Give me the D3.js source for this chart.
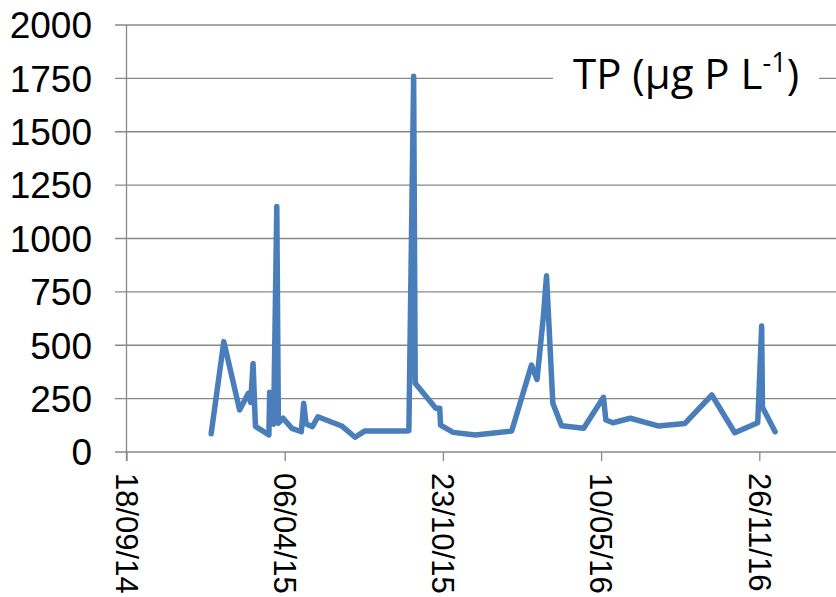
<!DOCTYPE html>
<html>
<head>
<meta charset="utf-8">
<script src="https://cdn.jsdelivr.net/npm/d3@7"></script>
<style>
  body { margin: 0; background: #fff; }
  svg { display: block; }
</style>
</head>
<body>
<div id="chart"></div>
<script>
// sampling dates (dd/mm/yy) and total phosphorus values
const dates = [
  "03/01/15", "19/01/15", "08/02/15", "19/02/15", "22/02/15", "25/02/15", "28/02/15",
  "17/03/15", "18/03/15", "23/03/15", "27/03/15", "29/03/15", "04/04/15", "15/04/15",
  "27/04/15", "30/04/15", "03/05/15", "11/05/15", "18/05/15", "17/06/15", "04/07/15",
  "16/07/15", "06/09/15", "10/09/15", "16/09/15", "18/09/15", "14/10/15", "19/10/15",
  "20/10/15", "05/11/15", "03/12/15", "18/01/16", "12/02/16", "19/02/16", "27/02/16",
  "02/03/16", "10/03/16", "21/03/16", "18/04/16", "13/05/16", "16/05/16", "25/05/16",
  "16/06/16", "21/07/16", "24/08/16", "27/09/16", "26/10/16", "24/11/16", "29/11/16",
  "30/11/16", "16/12/16"
];
const tp = [
  85, 517, 197, 275, 232, 415, 120,
  80, 280, 130, 1150, 135, 158, 111,
  95, 228, 131, 119, 165, 122, 69,
  98, 98, 100, 1760, 322, 205, 205,
  126, 92, 80, 98, 407, 340, 634,
  825, 228, 123, 111, 256, 150, 137,
  158, 122, 134, 267, 90, 137, 590,
  210, 95
];
const xTickLabels = ["18/09/14", "06/04/15", "23/10/15", "10/05/16", "26/11/16"];
const yTicks = [0, 250, 500, 750, 1000, 1250, 1500, 1750, 2000];
const xDomain = ["18/09/14", "14/06/17"];

const parse = d3.utcParse("%d/%m/%y");
const fmt = d3.utcFormat("%d/%m/%y");
const data = dates.map((d, i) => ({ date: parse(d), value: tp[i] }));

const W = 836, H = 597;
const gridColor = "#888888";

const svg = d3.select("#chart").append("svg")
  .attr("width", W)
  .attr("height", H);

const x = d3.scaleUtc()
  .domain(xDomain.map(parse))
  .range([126.5, 917.5]);

const y = d3.scaleLinear()
  .domain([0, 2000])
  .range([452, 25]);

// horizontal gridlines + y ticks
svg.append("g")
  .selectAll("line")
  .data(yTicks)
  .join("line")
  .attr("x1", 115)
  .attr("x2", W)
  .attr("y1", d => y(d))
  .attr("y2", d => y(d))
  .attr("stroke", gridColor)
  .attr("stroke-width", 1.3);

// y labels
svg.append("g")
  .selectAll("text")
  .data(yTicks)
  .join("text")
  .attr("x", 92)
  .attr("y", d => y(d))
  .attr("dy", "0.36em")
  .attr("text-anchor", "end")
  .attr("font-family", "Liberation Sans, Arial, sans-serif")
  .attr("font-size", 37)
  .attr("fill", "#000")
  .text(d => d);

// vertical axis line
svg.append("line")
  .attr("x1", x.range()[0]).attr("x2", x.range()[0])
  .attr("y1", y(2000)).attr("y2", 461)
  .attr("stroke", gridColor)
  .attr("stroke-width", 1.3);

// x axis
const xAxis = d3.axisBottom(x)
  .tickValues(xTickLabels.map(parse))
  .tickFormat(fmt)
  .tickSize(9)
  .tickSizeOuter(0);

const gx = svg.append("g")
  .attr("transform", `translate(0,${y(0)})`)
  .call(xAxis);
gx.select(".domain").remove();
gx.selectAll(".tick line")
  .attr("stroke", gridColor)
  .attr("stroke-width", 1.3);
gx.selectAll(".tick text")
  .attr("font-family", "Liberation Sans, Arial, sans-serif")
  .attr("font-size", 31)
  .attr("fill", "#000")
  .attr("text-anchor", "start")
  .attr("transform", "translate(0,21) rotate(90)")
  .attr("x", 0)
  .attr("y", 0)
  .attr("dy", "0.36em");

// data line
const line = d3.line()
  .x(d => x(d.date))
  .y(d => y(d.value));

svg.append("path")
  .datum(data)
  .attr("d", line)
  .attr("fill", "none")
  .attr("stroke", "#4a7ebb")
  .attr("stroke-width", 5.5)
  .attr("stroke-linejoin", "round")
  .attr("stroke-linecap", "round");

// title label with white box behind it
const titleG = svg.append("g");
const box = titleG.append("rect").attr("fill", "#fff");
const title = titleG.append("text")
  .attr("x", 573)
  .attr("y", 89)
  .attr("font-family", "Open Sans, sans-serif")
  .attr("font-size", 42)
  .attr("fill", "#000");
title.append("tspan").text("TP (µg P L");
title.append("tspan").attr("font-size", 27).attr("dy", -17).text("-1");
title.append("tspan").attr("dy", 17).text(")");

const bb = title.node().getBBox();
box.attr("x", bb.x - 20)
  .attr("y", bb.y)
  .attr("width", bb.width + 40)
  .attr("height", bb.height);
</script>
</body>
</html>
